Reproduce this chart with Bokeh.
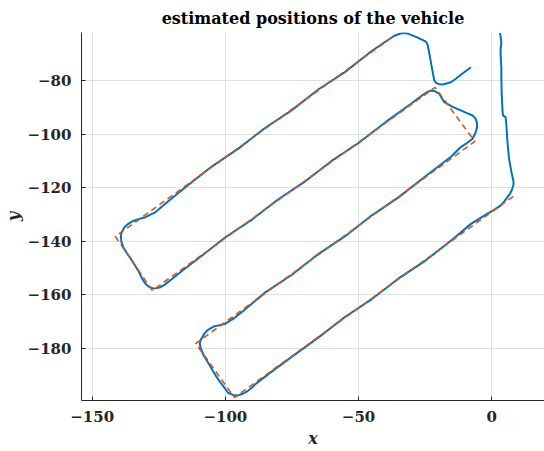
from bokeh.plotting import figure
from bokeh.embed import file_html
from bokeh.resources import INLINE
from bokeh.models import Range1d, FixedTicker

# Reference (planned) path waypoints
ref_x = [8.1, -96.6, -111.1, -6.35, -21.3, -127.4, -141.3, -36.3]
ref_y = [-123.2, -198.4, -178.2, -102.7, -82.5, -158.4, -138.2, -63.0]

# Estimated positions of the vehicle
est_x = [3.1, 3.6, 3.3, 3.4, 3.6, 3.6, 3.7, 4.0, 4.2, 5.2, 5.5, 5.9, 6.5, 7.4, 8.1, 8.2, 7.7, 7.0, 5.9, 4.8,
         3.4, 1.0, -1.6, -7.8,
         -15.0, -25.0, -35.0, -45.0, -55.0, -65.0, -75.1, -83.0, -88.5, -90.3, -92.0, -93.7, -95.3, -97.2,
         -99.0, -101.2, -103.7, -108.1, -109.4, -109.6, -109.0, -108.0, -106.8, -104.3, -102.2, -100.0,
         -96.5, -93.1,
         -85.0, -75.0, -65.0, -55.0, -45.0, -35.0, -25.0, -15.3, -11.6, -9.3, -7.2, -6.0, -5.5, -5.6, -6.2,
         -7.2, -9.3, -11.6, -14.7, -17.8, -18.9, -19.7, -21.2, -22.8, -24.0, -25.3, -27.6, -30.3,
         -40.0, -50.0, -60.0, -70.0, -80.0, -90.0, -100.0, -108.7, -116.2, -122.4, -124.7, -126.8, -128.6,
         -130.0, -131.3, -132.4, -135.5, -137.0, -138.3, -139.0, -139.2, -139.1, -138.6, -137.8, -136.7,
         -135.2, -133.6, -130.0, -126.2, -121.1,
         -115.0, -105.0, -95.0, -85.0, -75.0, -65.0, -55.0, -45.2, -39.0, -36.5, -34.0, -32.8, -31.5, -28.0,
         -24.7, -24.0, -21.6, -20.9, -19.7, -18.4, -15.3, -13.5, -11.6, -7.8]
est_y = [-62.1, -65.6, -68.5, -71.8, -75.0, -78.1, -84.3, -90.5, -93.0, -93.6, -96.7, -103.0, -109.2, -114.2,
         -117.3, -118.8, -120.4, -122.0, -123.5, -125.0, -126.6, -128.2, -129.7, -133.5,
         -139.5, -147.3, -153.9, -161.6, -168.2, -175.9, -183.2, -189.0, -193.2, -194.9, -196.2, -197.1,
         -197.6, -197.4, -196.6, -193.6, -190.1, -182.7, -179.6, -178.0, -176.4, -174.7, -173.3, -171.8,
         -171.4, -170.8, -168.6, -165.9,
         -159.1, -152.5, -144.7, -138.1, -130.3, -123.6, -115.8, -108.4, -104.8, -103.3, -101.7, -99.2,
         -97.3, -95.5, -94.0, -93.0, -92.1, -91.1, -89.8, -88.0, -86.3, -84.9, -84.0, -83.7, -84.1, -84.9,
         -86.6, -88.6,
         -95.6, -103.3, -109.9, -117.6, -124.2, -131.9, -138.5, -145.3, -151.0, -156.0, -157.3, -157.7,
         -157.1, -155.9, -153.9, -151.5, -146.5, -144.4, -142.2, -140.3, -138.5, -137.1, -136.0, -134.7,
         -133.7, -132.7, -132.0, -131.0, -129.1, -124.8,
         -119.8, -112.0, -105.3, -97.6, -91.0, -83.2, -76.7, -69.0, -64.8, -63.2, -62.3, -62.2, -62.4, -63.8,
         -65.4, -66.8, -79.9, -80.8, -81.3, -81.4, -80.6, -79.3, -77.8, -75.0]

x_ticks = [-150, -100, -50, 0]
y_ticks = [-180, -160, -140, -120, -100, -80]

FONT = "DejaVu Serif"
TXT = "#262626"

p = figure(width=544, height=451, output_backend="svg", toolbar_location=None,
           x_range=Range1d(-154.0, 19.8), y_range=Range1d(-199.5, -62.0),
           min_border_left=78, min_border_right=0, min_border_top=32, min_border_bottom=51,
           title="estimated positions of the vehicle")
p.outline_line_color = None
p.background_fill_color = "white"
p.border_fill_color = "white"

p.title.align = "center"
p.title.text_font = FONT
p.title.text_font_style = "bold"
p.title.text_font_size = "16px"
p.title.text_color = "#000000"
p.title.standoff = 9

p.line(est_x, est_y, line_color="#0072BD", line_width=2)
p.line(ref_x, ref_y, line_color="#D95319", line_width=1.6, line_dash="6 4")

for ax, ticks in ((p.xaxis, x_ticks), (p.yaxis, y_ticks)):
    ax.ticker = FixedTicker(ticks=ticks)
    ax.axis_line_color = TXT
    ax.major_tick_line_color = TXT
    ax.major_tick_in = 4
    ax.major_tick_out = 0
    ax.minor_tick_line_color = None
    ax.major_label_text_font = FONT
    ax.major_label_text_font_style = "bold"
    ax.major_label_text_font_size = "15px"
    ax.major_label_text_color = TXT
    ax.axis_label_text_font = FONT
    ax.axis_label_text_font_style = "bold italic"
    ax.axis_label_text_font_size = "16px"
    ax.axis_label_text_color = TXT

p.xaxis.axis_label = "x"
p.yaxis.axis_label = "y"
p.xaxis.major_label_standoff = 10
p.yaxis.major_label_standoff = 10
p.xaxis.axis_label_standoff = 4
p.yaxis.axis_label_standoff = 2

p.xgrid.ticker = FixedTicker(ticks=x_ticks)
p.ygrid.ticker = FixedTicker(ticks=y_ticks)
p.grid.grid_line_color = "#dfdfdf"
p.grid.grid_line_width = 1

open("out.html", "w").write(file_html(p, INLINE))
